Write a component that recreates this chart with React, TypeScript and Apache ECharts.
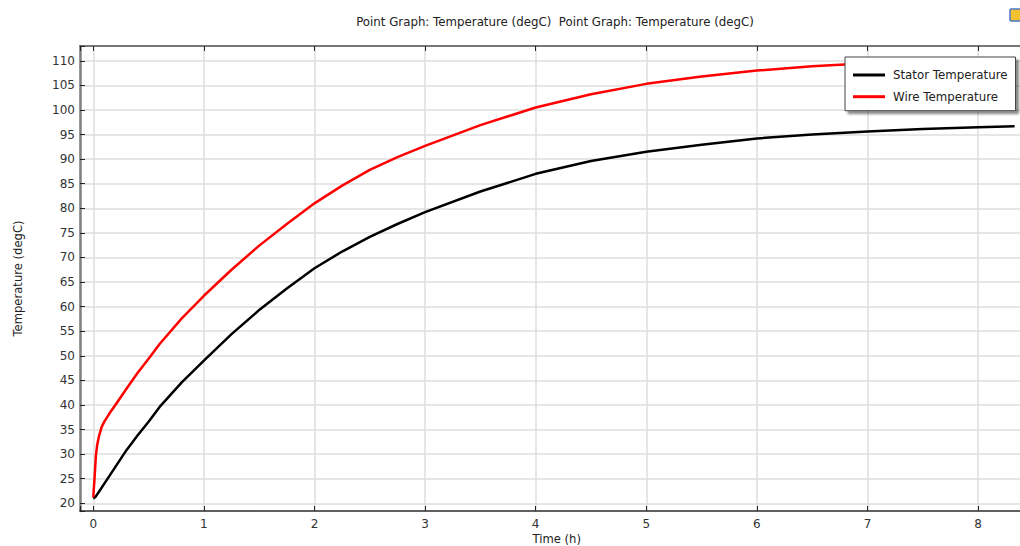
import React, { useEffect, useRef } from "react";
import * as echarts from "echarts";

const statorTime = [0, 0.02, 0.05, 0.1, 0.2, 0.3, 0.4, 0.5, 0.6, 0.8, 1.0, 1.25, 1.5, 1.75, 2.0, 2.25, 2.5, 2.75, 3.0, 3.5, 4.0, 4.5, 5.0, 5.5, 6.0, 6.5, 7.0, 7.5, 8.0, 8.33];
const statorTemp = [21.0, 21.3, 22.3, 24.0, 27.4, 30.8, 33.8, 36.6, 39.6, 44.6, 49.0, 54.4, 59.3, 63.7, 67.8, 71.2, 74.2, 76.8, 79.2, 83.4, 87.0, 89.6, 91.5, 92.9, 94.2, 95.0, 95.6, 96.1, 96.5, 96.7];

const wireTime = [0, 0.005, 0.01, 0.015, 0.024, 0.035, 0.05, 0.075, 0.1, 0.15, 0.2, 0.3, 0.4, 0.5, 0.6, 0.8, 1.0, 1.25, 1.5, 1.75, 2.0, 2.25, 2.5, 2.75, 3.0, 3.5, 4.0, 4.5, 5.0, 5.5, 6.0, 6.5, 7.0, 7.5, 8.0, 8.33];
const wireTemp = [21.2, 23.0, 24.5, 26.5, 29.8, 31.8, 33.5, 35.5, 36.6, 38.4, 40.0, 43.3, 46.5, 49.4, 52.4, 57.6, 62.2, 67.5, 72.4, 76.8, 81.0, 84.6, 87.8, 90.4, 92.7, 96.9, 100.5, 103.2, 105.3, 106.8, 108.0, 108.9, 109.5, 110.0, 110.3, 110.5];

const xTicks = [0, 1, 2, 3, 4, 5, 6, 7, 8];
const yTicks = [20, 25, 30, 35, 40, 45, 50, 55, 60, 65, 70, 75, 80, 85, 90, 95, 100, 105, 110];

const seriesNames = ["Stator Temperature", "Wire Temperature"];
const titleText = "Point Graph: Temperature (degC)  Point Graph: Temperature (degC)";
const xName = "Time (h)";
const yName = "Temperature (degC)";

const FONT = "DejaVu Sans";

function isTick(v: number, ticks: number[]) {
  return ticks.some((t) => Math.abs(t - v) < 1e-6);
}

export default function App() {
  const ref = useRef<HTMLDivElement>(null);
  useEffect(() => {
    if (!ref.current) return;
    const chart = echarts.init(ref.current, undefined, { renderer: "svg" });
    const stator = statorTime.map((t, i) => [t, statorTemp[i]]);
    const wire = wireTime.map((t, i) => [t, wireTemp[i]]);
    const xBase = {
      type: "value" as const,
      min: -0.12,
      max: 8.5,
      splitNumber: 9,
    };
    chart.setOption({
      animation: false,
      backgroundColor: "#ffffff",
      textStyle: { fontFamily: FONT },
      title: {
        text: titleText,
        left: 550,
        top: 11,
        textAlign: "center",
        textStyle: { fontFamily: FONT, fontSize: 11.8, fontWeight: "normal", color: "#222" },
      },
      grid: {
        left: 80,
        top: 46,
        bottom: 35,
        right: -13.4,
        containLabel: false,
        outerBoundsMode: "none",
      },
      legend: {
        orient: "vertical",
        left: 845,
        top: 57,
        data: seriesNames.map((n) => ({ name: n, icon: "rect" })),
        itemWidth: 32,
        itemHeight: 3,
        itemGap: 9.7,
        padding: [12, 8, 8, 8],
        backgroundColor: "#ffffff",
        borderColor: "#444",
        borderWidth: 1,
        shadowColor: "rgba(0,0,0,0.45)",
        shadowBlur: 2,
        shadowOffsetX: 3,
        shadowOffsetY: 3,
        textStyle: { fontFamily: FONT, fontSize: 11.8, color: "#222", padding: [0, 0, 0, 3] },
      },
      xAxis: [
        {
          ...xBase,
          position: "bottom",
          name: xName,
          nameLocation: "middle",
          nameGap: 22,
          nameMoveOverlap: false,
          nameTextStyle: { fontFamily: FONT, fontSize: 11.6, color: "#222" },
          axisLine: { show: true, onZero: false, lineStyle: { color: "#333", width: 1.5 } },
          axisTick: { show: true, inside: true, length: 5, lineStyle: { color: "#222", width: 1 } },
          axisLabel: {
            fontFamily: FONT,
            fontSize: 12,
            color: "#333",
            margin: 7,
            formatter: (v: number) => (isTick(v, xTicks) ? String(Math.round(v)) : ""),
          },
          splitLine: { show: true, lineStyle: { color: "#dedede", width: 1.5 } },
        },
        {
          ...xBase,
          position: "top",
          axisLine: { show: true, onZero: false, lineStyle: { color: "#777", width: 2 } },
          axisTick: { show: true, inside: true, length: 5, lineStyle: { color: "#222", width: 1 } },
          axisLabel: { show: false },
          splitLine: { show: false },
        },
      ],
      yAxis: {
        type: "value",
        min: 18.43,
        max: 113,
        splitNumber: 19,
        name: yName,
        nameLocation: "middle",
        nameGap: 56,
        nameMoveOverlap: false,
        nameTextStyle: { fontFamily: FONT, fontSize: 11.6, color: "#222" },
        axisLine: { show: true, onZero: false, lineStyle: { color: "#808080", width: 2.5 } },
        axisTick: { show: true, inside: true, length: 5, lineStyle: { color: "#222", width: 1 } },
        axisLabel: {
          fontFamily: FONT,
          fontSize: 12,
          color: "#333",
          margin: 5,
          formatter: (v: number) => (isTick(v, yTicks) ? String(Math.round(v)) : ""),
        },
        splitLine: { show: true, lineStyle: { color: "#dedede", width: 1.5 } },
      },
      graphic: [
        {
          type: "rect",
          shape: { x: 1010, y: 9, width: 12, height: 12, r: 1 },
          style: { fill: "#f2c230", stroke: "#4a78c8", lineWidth: 1.5 },
        },
      ],
      series: [
        {
          name: seriesNames[0],
          type: "line",
          data: stator,
          symbol: "none",
          showSymbol: false,
          lineStyle: { color: "#000000", width: 2.5 },
          itemStyle: { color: "#000000" },
        },
        {
          name: seriesNames[1],
          type: "line",
          data: wire,
          symbol: "none",
          showSymbol: false,
          lineStyle: { color: "#ff0000", width: 2.5 },
          itemStyle: { color: "#ff0000" },
        },
      ],
    });
    return () => chart.dispose();
  }, []);
  return (
    <div
      ref={ref}
      style={{ position: "fixed", left: 0, top: 0, width: 1020, height: 546, background: "#fff" }}
    />
  );
}
